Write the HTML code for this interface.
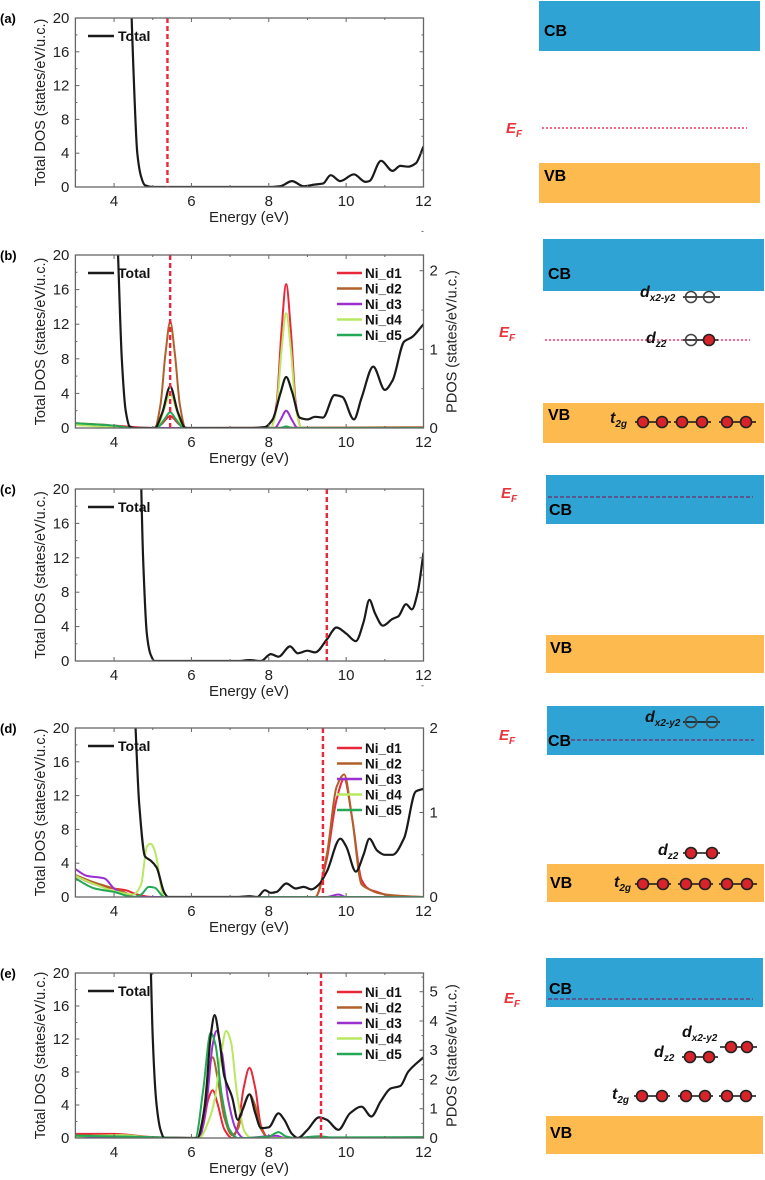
<!DOCTYPE html>
<html><head><meta charset="utf-8"><style>
html,body{margin:0;padding:0;background:#fff;width:765px;height:1180px;overflow:hidden}
svg{display:block;font-family:"Liberation Sans",Arial,sans-serif}
</style></head><body>
<svg id="fig" width="765" height="1180" viewBox="0 0 765 1180">
<g id="charts"></g>
<g id="diagrams">
  <g>
    <rect x="539" y="1" width="221" height="50" fill="#2fa3d3"/>
    <text x="544" y="36" font-size="16" font-weight="bold">CB</text>
    <line x1="542" y1="128" x2="747" y2="128" stroke="#f36" stroke-width="1.5" stroke-dasharray="2,2"/>
    <text x="506" y="133" font-size="15" font-style="italic" font-weight="bold" fill="#e8333b">E<tspan font-size="10" dy="4">F</tspan></text>
    <rect x="539" y="163" width="221" height="40" fill="#fdbb4f"/>
    <text x="544" y="181" font-size="16" font-weight="bold">VB</text>
  </g>
  <g>
    <rect x="543" y="239" width="221" height="52" fill="#2fa3d3"/>
    <text x="548" y="279" font-size="16" font-weight="bold">CB</text>
    <line x1="545" y1="340" x2="750" y2="340" stroke="#f36" stroke-width="1.5" stroke-dasharray="2,2"/>
    <text x="499" y="337" font-size="15" font-style="italic" font-weight="bold" fill="#e8333b">E<tspan font-size="10" dy="4">F</tspan></text>
    <rect x="543" y="403" width="221" height="40" fill="#fdbb4f"/>
    <text x="548" y="420" font-size="16" font-weight="bold">VB</text>
  </g>
  <g>
    <rect x="546" y="475" width="218" height="49" fill="#2fa3d3"/>
    <line x1="548" y1="497" x2="753" y2="497" stroke="#6a3d78" stroke-width="1.5" stroke-dasharray="4,2"/>
    <text x="549" y="515" font-size="16" font-weight="bold">CB</text>
    <text x="501" y="498" font-size="15" font-style="italic" font-weight="bold" fill="#e8333b">E<tspan font-size="10" dy="4">F</tspan></text>
    <rect x="546" y="635" width="218" height="38" fill="#fdbb4f"/>
    <text x="550" y="653" font-size="16" font-weight="bold">VB</text>
  </g>
  <g>
    <rect x="547" y="706" width="217" height="49" fill="#2fa3d3"/>
    <line x1="565" y1="740" x2="754" y2="740" stroke="#6a3d78" stroke-width="1.5" stroke-dasharray="4,2"/>
    <text x="548" y="746" font-size="16" font-weight="bold">CB</text>
    <text x="499" y="740" font-size="15" font-style="italic" font-weight="bold" fill="#e8333b">E<tspan font-size="10" dy="4">F</tspan></text>
    <rect x="547" y="864" width="217" height="38" fill="#fdbb4f"/>
    <text x="550" y="888" font-size="16" font-weight="bold">VB</text>
  </g>
  <g>
    <rect x="546" y="958" width="217" height="49" fill="#2fa3d3"/>
    <text x="549" y="994" font-size="16" font-weight="bold">CB</text>
    <line x1="548" y1="999" x2="753" y2="999" stroke="#6a3d78" stroke-width="1.5" stroke-dasharray="4,2"/>
    <text x="504" y="1003" font-size="15" font-style="italic" font-weight="bold" fill="#e8333b">E<tspan font-size="10" dy="4">F</tspan></text>
    <rect x="546" y="1116" width="217" height="38" fill="#fdbb4f"/>
    <text x="550" y="1138" font-size="16" font-weight="bold">VB</text>
  </g>
  <g id="orbitals"></g>
</g>
</svg>
<script>
// ---------- data ----------
const xTicks = [4, 6, 8, 10, 12];
const yTicks = [0, 4, 8, 12, 16, 20];
const seriesNames = ['Ni_d1', 'Ni_d2', 'Ni_d3', 'Ni_d4', 'Ni_d5'];
const efEnergies = [5.38, 5.45, 9.5, 9.4, 9.35];

const totalA = [[4.45,20.5],[4.5,14],[4.6,4],[4.7,1.2],[4.8,0.2],[5,0],[8,0],[8.3,0.1],[8.6,0.7],[8.9,0.1],[9.2,0.3],[9.4,0.4],[9.6,1.4],[9.85,0.7],[10.2,1.5],[10.5,0.6],[10.6,0.7],[10.9,3.1],[11.2,1.9],[11.4,2.5],[11.6,2.4],[11.8,2.8],[12,4.8]];

const totalB = [[4.1,20.5],[4.2,8],[4.3,2],[4.4,0.2],[4.5,0],[5.05,0],[5.25,1.8],[5.45,4.8],[5.65,1.8],[5.85,0],[7.5,0],[7.9,0.1],[8.1,1],[8.3,4],[8.45,5.9],[8.6,4.2],[8.8,1.2],[9,1],[9.2,1.3],[9.4,1.2],[9.7,3.8],[9.9,3.6],[10.2,1],[10.4,3.5],[10.7,7.1],[11,4.4],[11.2,5.5],[11.5,10],[11.7,10.5],[12,12]];
const b_d1 = [[3,0.05],[4,0.03],[5,0],[5.2,0.04],[5.45,0.15],[5.7,0.04],[5.9,0],[8.05,0],[8.2,0.3],[8.33,1.25],[8.45,1.83],[8.57,1.25],[8.7,0.3],[8.85,0],[12,0]];
const b_d2 = [[3,0.06],[3.8,0.04],[4.2,0],[5.05,0],[5.2,0.3],[5.33,0.95],[5.45,1.35],[5.57,0.95],[5.7,0.3],[5.85,0],[12,0.01]];
const b_d3 = [[3,0.04],[4,0.02],[4.5,0],[8.15,0],[8.3,0.1],[8.45,0.22],[8.6,0.1],[8.75,0],[12,0]];
const b_d4 = [[3,0.04],[4.5,0],[5.1,0],[5.3,0.25],[5.45,0.44],[5.6,0.25],[5.8,0],[8.05,0],[8.2,0.25],[8.33,1.0],[8.45,1.46],[8.57,1.0],[8.7,0.25],[8.85,0],[12,0]];
const b_d5 = [[3,0.06],[4,0.03],[4.5,0],[5.1,0],[5.3,0.11],[5.45,0.2],[5.6,0.11],[5.8,0],[8.3,0],[8.45,0.02],[8.6,0],[12,0]];
const pdosTicksB = [0, 1, 2];

const totalC = [[4.7,20.5],[4.75,12],[4.85,3],[4.95,0.7],[5.05,0],[7.2,0],[7.5,0.1],[7.8,0],[8.05,0.8],[8.25,0.5],[8.55,1.7],[8.75,0.9],[9,1.2],[9.2,1],[9.5,2.5],[9.75,3.9],[10,3.2],[10.25,2.3],[10.45,4.5],[10.6,7.1],[10.75,5.5],[10.95,4.1],[11.2,4.9],[11.35,5.2],[11.55,6.6],[11.7,6],[11.85,8],[12,12.6]];

const totalD = [[4.55,20.5],[4.65,11],[4.8,4.8],[4.95,4.3],[5.1,3.5],[5.3,0.5],[5.4,0],[7.2,0],[7.5,0.1],[7.7,0],[7.9,0.8],[8.05,0.5],[8.2,0.6],[8.45,1.6],[8.7,1],[8.9,1.2],[9.1,0.9],[9.3,1.5],[9.5,3],[9.85,6.9],[10,6],[10.25,3],[10.45,5],[10.6,6.9],[10.8,5.5],[11,5],[11.2,5],[11.5,7],[11.8,12.5],[12,12.8]];
const d_d1 = [[3,0.25],[3.5,0.15],[4,0.1],[4.3,0.08],[4.6,0.03],[5,0],[9.2,0],[9.5,0.45],[9.75,1.15],[9.95,1.4],[10.15,0.95],[10.4,0.2],[10.6,0.09],[10.8,0.06],[11.2,0.01],[12,0]];
const d_d2 = [[3,0.26],[3.5,0.17],[4,0.1],[4.3,0.05],[4.5,0],[9.2,0],[9.5,0.5],[9.75,1.3],[9.95,1.45],[10.15,0.95],[10.4,0.15],[10.6,0.09],[10.8,0.05],[11.2,0.02],[12,0]];
const d_d3 = [[3,0.33],[3.3,0.25],[3.75,0.22],[4,0.1],[4.3,0.02],[4.6,0],[9.5,0],[9.8,0.03],[10,0],[12,0]];
const d_d4 = [[3,0.25],[3.5,0.15],[4,0.07],[4.5,0.03],[4.7,0.15],[4.85,0.6],[4.95,0.63],[5.05,0.55],[5.3,0],[12,0]];
const d_d5 = [[3,0.22],[3.5,0.1],[4,0.06],[4.5,0],[4.7,0.03],[4.9,0.12],[5.05,0.11],[5.3,0],[12,0]];
const pdosTicksD = [0, 1, 2];

const totalE = [[4.95,20.5],[5.0,12],[5.1,4],[5.2,1],[5.3,0],[6.15,0],[6.35,4],[6.5,12.5],[6.6,14.9],[6.72,12],[6.85,7.5],[7.05,5],[7.2,2.2],[7.33,3.5],[7.5,5.3],[7.65,3],[7.8,1.2],[8,1.3],[8.25,3],[8.4,2.2],[8.6,0.5],[8.75,0],[9,1],[9.3,2.5],[9.5,2.2],[9.8,1],[10.1,3],[10.4,3.8],[10.65,2.6],[10.9,4.5],[11.15,6],[11.4,6.3],[11.6,8],[12,9.8]];
const e_d1 = [[3,0.14],[4,0.14],[5,0.03],[6.15,0],[6.3,0.4],[6.43,1.3],[6.55,1.63],[6.67,1.2],[6.85,0.3],[7.05,0],[7.2,0.4],[7.35,1.7],[7.5,2.4],[7.65,1.7],[7.8,0.4],[8,0],[12,0.02]];
const e_d2 = [[3,0.1],[4,0.08],[5,0.02],[6.15,0],[6.3,0.7],[6.43,2.2],[6.55,2.76],[6.67,2.1],[6.85,0.7],[7.05,0.1],[7.2,0.3],[7.35,1.1],[7.5,1.49],[7.65,1.1],[7.8,0.3],[8,0],[12,0.02]];
const e_d3 = [[3,0.05],[5,0.02],[6.2,0],[6.4,1.3],[6.55,3.2],[6.65,3.66],[6.78,3.0],[6.95,1.3],[7.15,0.3],[7.35,0],[8.2,0.08],[8.4,0],[12,0]];
const e_d4 = [[3,0.05],[4.2,0.1],[5,0.02],[6.2,0],[6.45,0.6],[6.6,1.3],[6.75,2.7],[6.9,3.66],[7.02,3.3],[7.18,1.5],[7.38,0.2],[7.55,0],[12,0]];
const e_d5 = [[3,0.08],[5,0.03],[6.1,0],[6.3,1.6],[6.5,3.6],[6.62,3.2],[6.78,1.5],[6.98,0.3],[7.2,0],[8.0,0.05],[8.25,0.2],[8.45,0.05],[8.7,0],[9.3,0.06],[9.6,0.02],[12,0.03]];
const pdosTicksE = [0, 1, 2, 3, 4, 5];

// ---------- drawing ----------
const NS = 'http://www.w3.org/2000/svg';
const colors = ['#e8283a', '#b0602a', '#9b30d0', '#b8e860', '#25a855'];
const chartsG = document.getElementById('charts');
function mk(tag, attrs, parent) {
  const el = document.createElementNS(NS, tag);
  for (const k in attrs) el.setAttribute(k, attrs[k]);
  parent.appendChild(el);
  return el;
}
// monotone cubic (Fritsch-Carlson) in pixel coords
function smoothPath(pts) {
  const n = pts.length;
  const dx = [], s = [];
  for (let i = 0; i < n - 1; i++) { dx[i] = pts[i+1][0] - pts[i][0]; s[i] = (pts[i+1][1] - pts[i][1]) / (dx[i] || 1e-6); }
  const m = [];
  m[0] = s[0]; m[n-1] = s[n-2];
  for (let i = 1; i < n - 1; i++) {
    if (s[i-1] * s[i] <= 0) m[i] = 0;
    else { const w1 = 2*dx[i] + dx[i-1], w2 = dx[i] + 2*dx[i-1]; m[i] = (w1 + w2) / (w1 / s[i-1] + w2 / s[i]); }
  }
  let d = 'M' + pts[0][0].toFixed(1) + ',' + pts[0][1].toFixed(1);
  for (let i = 0; i < n - 1; i++) {
    const h = dx[i] / 3;
    d += 'C' + (pts[i][0] + h).toFixed(1) + ',' + (pts[i][1] + m[i]*h).toFixed(1) + ' ' + (pts[i+1][0] - h).toFixed(1) + ',' + (pts[i+1][1] - m[i+1]*h).toFixed(1) + ' ' + pts[i+1][0].toFixed(1) + ',' + pts[i+1][1].toFixed(1);
  }
  return d;
}
const panels = [
  {id:'a', top:18, bottom:187, total:totalA, ef:efEnergies[0], pd:null},
  {id:'b', top:255, bottom:428, total:totalB, ef:efEnergies[1], pd:[b_d1,b_d2,b_d3,b_d4,b_d5], pmax:2.2, pticks:pdosTicksB, rlabel:true, legTop:273},
  {id:'c', top:489, bottom:661, total:totalC, ef:efEnergies[2], pd:null},
  {id:'d', top:728, bottom:897, total:totalD, ef:efEnergies[3], pd:[d_d1,d_d2,d_d3,d_d4,d_d5], pmax:2, pticks:pdosTicksD, rlabel:false, legTop:748},
  {id:'e', top:973, bottom:1138, total:totalE, ef:efEnergies[4], pd:[e_d1,e_d2,e_d3,e_d4,e_d5], pmax:5.64, pticks:pdosTicksE, rlabel:true, legTop:992}
];
const L = 75.4, R = 423.5;
panels.forEach(p => {
  const g = mk('g', {}, chartsG);
  
  
  const xs = e => L + (e - 3) / 9 * (R - L);
  const ys = v => p.bottom - v / 20 * (p.bottom - p.top);
  const yr = v => p.bottom - v / p.pmax * (p.bottom - p.top);
  const cid = 'clip-' + p.id;
  const cp = mk('clipPath', {id: cid}, g);
  mk('rect', {x: L, y: p.top, width: R - L, height: p.bottom - p.top}, cp);
  const pl = mk('text', {x: 0, y: p.top + 5, 'font-size': 13, 'font-weight': 'bold'}, g);
  pl.textContent = '(' + p.id + ')';
  
  
  if (p.pd) {
    p.pd.forEach((s, i) => {
      const path = mk('path', {d: smoothPath(s.map(q => [xs(q[0]), yr(q[1])])), fill: 'none', stroke: colors[i], 'stroke-width': 2, 'clip-path': 'url(#' + cid + ')'}, g);
      
      
    });
  }
  const tp = mk('path', {d: smoothPath(p.total.map(q => [xs(q[0]), ys(q[1])])), fill: 'none', stroke: '#1a1a1a', 'stroke-width': 2.2, 'clip-path': 'url(#' + cid + ')'}, g);
  
  
  const ef = mk('line', {x1: xs(p.ef), x2: xs(p.ef), y1: p.top, y2: p.bottom, stroke: '#f0243a', 'stroke-width': 2.4, 'stroke-dasharray': '5,3'}, g);
  
  
  const fr = mk('rect', {x: L, y: p.top, width: R - L, height: p.bottom - p.top, fill: 'none', stroke: '#666', 'stroke-width': 1.3}, g);
  
  
  for (let e = 3; e <= 12; e++) {
    const len = e % 2 === 0 ? 4 : 2;
    mk('line', {x1: xs(e), x2: xs(e), y1: p.bottom, y2: p.bottom - len, stroke: '#666'}, g);
    mk('line', {x1: xs(e), x2: xs(e), y1: p.top, y2: p.top + len, stroke: '#666'}, g);
  }
  xTicks.forEach(t => {
    const tx = mk('text', {x: xs(t), y: p.bottom + 19, 'font-size': 15, 'text-anchor': 'middle', fill: '#222'}, g);
    tx.textContent = t;
    
    
  });
  const xl = mk('text', {x: 249, y: p.bottom + 35, 'font-size': 15, 'text-anchor': 'middle', fill: '#222'}, g);
  xl.textContent = 'Energy (eV)';
  
  
  for (let v = 0; v <= 20; v += 2) {
    const len = v % 4 === 0 ? 4 : 2;
    mk('line', {x1: L, x2: L + len, y1: ys(v), y2: ys(v), stroke: '#666'}, g);
    if (!p.pd) mk('line', {x1: R, x2: R - len, y1: ys(v), y2: ys(v), stroke: '#666'}, g);
  }
  yTicks.forEach(t => {
    const ty = mk('text', {x: L - 6, y: ys(t) + 5, 'font-size': 15, 'text-anchor': 'end', fill: '#222'}, g);
    ty.textContent = t;
    
    
  });
  const cy = (p.top + p.bottom) / 2;
  const yl = mk('text', {x: 0, y: 0, 'font-size': 14.5, 'text-anchor': 'middle', fill: '#222', transform: 'translate(45,' + cy + ') rotate(-90)'}, g);
  yl.textContent = 'Total DOS (states/eV/u.c.)';
  
  
  if (p.pd) {
    p.pticks.forEach(t => {
      mk('line', {x1: R, x2: R - 4, y1: yr(t), y2: yr(t), stroke: '#666'}, g);
      mk('line', {x1: R, x2: R - 2, y1: yr(t + 0.5), y2: yr(t + 0.5), stroke: '#666'}, g);
      const tr = mk('text', {x: R + 6, y: yr(t) + 5, 'font-size': 15, fill: '#222'}, g);
      tr.textContent = t;
      
      
    });
    if (p.rlabel) {
      const rl = mk('text', {x: 0, y: 0, 'font-size': 14.5, 'text-anchor': 'middle', fill: '#222', transform: 'translate(' + (R + 33) + ',' + cy + ') rotate(-90)'}, g);
      rl.textContent = 'PDOS (states/eV/u.c.)';
      
      
    }
    seriesNames.forEach((n, i) => {
      const yy = p.legTop + i * 15.5;
      const ll = mk('line', {x1: 337, x2: 362, y1: yy, y2: yy, stroke: colors[i], 'stroke-width': 2.5}, g);
      
      
      const lt = mk('text', {x: 365, y: yy + 5, 'font-size': 13.5, 'font-weight': 'bold', fill: '#111'}, g);
      lt.textContent = n;
      
      
    });
  }
  const legY = p.top + 18;
  const tl = mk('line', {x1: 88, x2: 114, y1: legY, y2: legY, stroke: '#1a1a1a', 'stroke-width': 2.5}, g);
  
  
  const tt = mk('text', {x: 118, y: legY + 5, 'font-size': 14, 'font-weight': 'bold', fill: '#111'}, g);
  tt.textContent = 'Total';
  
  
});

// ---------- orbital diagrams ----------
const og = document.getElementById('orbitals');
function pairRow(name, y, xsArr, filled, x1, x2) {
  const g = mk('g', {}, og);
  
  
  mk('line', {x1: x1, x2: x2, y1: y, y2: y, stroke: '#111', 'stroke-width': 1.6}, g);
  xsArr.forEach((x, i) => {
    mk('circle', {cx: x, cy: y, r: 5.5, fill: filled[i] ? '#d8232a' : 'none', stroke: filled[i] ? '#222' : '#444', 'stroke-width': 1.6}, g);
  });
}
function orbLabel(name, x, y, main, sub) {
  const t = mk('text', {x: x, y: y, 'font-size': 16, 'font-weight': 'bold', 'font-style': 'italic', fill: '#111'}, og);
  
  
  t.innerHTML = main + '<tspan font-size="10" dy="4">' + sub + '</tspan>';
}
pairRow('orbital-dx2y2-b', 297, [691, 709], [0, 0], 683, 720);
orbLabel('orbital-label-dx2y2-b', 640, 297, 'd', 'x2-y2');
pairRow('orbital-dz2-b', 340, [691, 709], [0, 1], 683, 718);
orbLabel('orbital-label-dz2-b', 646, 343, 'd', 'z2');
pairRow('orbital-t2g-b-1', 422, [643, 662], [1, 1], 635, 671);
pairRow('orbital-t2g-b-2', 422, [682, 702], [1, 1], 674, 711);
pairRow('orbital-t2g-b-3', 422, [727, 746], [1, 1], 719, 756);
orbLabel('orbital-label-t2g-b', 610, 423, 't', '2g');
pairRow('orbital-dx2y2-d', 722, [691, 712], [0, 0], 683, 720);
orbLabel('orbital-label-dx2y2-d', 645, 722, 'd', 'x2-y2');
pairRow('orbital-dz2-d', 853, [691, 712], [1, 1], 683, 720);
orbLabel('orbital-label-dz2-d', 658, 855, 'd', 'z2');
pairRow('orbital-t2g-d-1', 884, [643, 663], [1, 1], 635, 671);
pairRow('orbital-t2g-d-2', 884, [686, 705], [1, 1], 678, 713);
pairRow('orbital-t2g-d-3', 884, [727, 747], [1, 1], 719, 757);
orbLabel('orbital-label-t2g-d', 614, 887, 't', '2g');
pairRow('orbital-dx2y2-e', 1047, [731, 747], [1, 1], 720, 757);
orbLabel('orbital-label-dx2y2-e', 682, 1037, 'd', 'x2-y2');
pairRow('orbital-dz2-e', 1057, [690, 709], [1, 1], 682, 718);
orbLabel('orbital-label-dz2-e', 654, 1057, 'd', 'z2');
pairRow('orbital-t2g-e-1', 1096, [642, 662], [1, 1], 634, 670);
pairRow('orbital-t2g-e-2', 1096, [686, 705], [1, 1], 678, 713);
pairRow('orbital-t2g-e-3', 1096, [727, 746], [1, 1], 719, 756);
orbLabel('orbital-label-t2g-e', 612, 1099, 't', '2g');
</script>
</body></html>
